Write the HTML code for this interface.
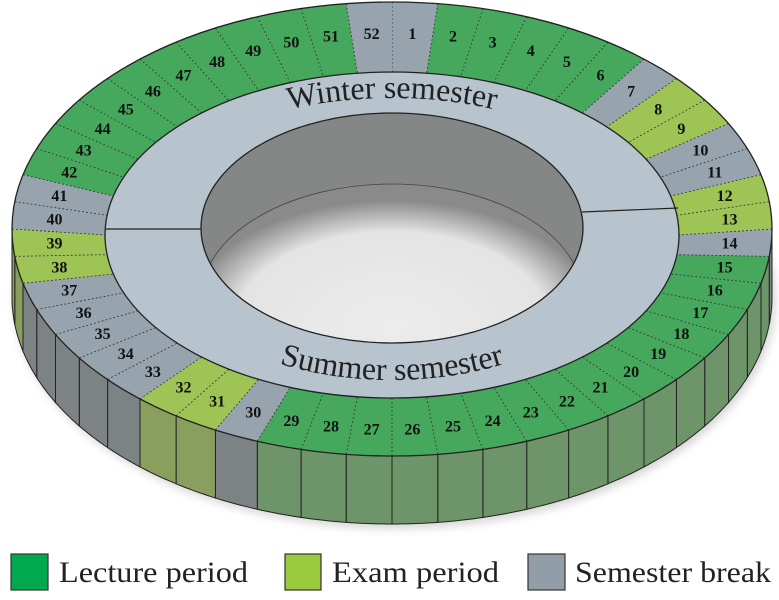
<!DOCTYPE html>
<html><head><meta charset="utf-8"><style>
html,body{margin:0;padding:0;background:#fff;}
svg{display:block;}
.n{font-family:"Liberation Serif",serif;font-weight:bold;font-size:16px;fill:#111;}
.t{font-family:"Liberation Serif",serif;font-size:32px;fill:#222;}
.lg{font-family:"Liberation Serif",serif;font-size:30px;fill:#222;}
</style></head><body>
<svg id="s" width="779" height="600" viewBox="0 0 779 600" xmlns="http://www.w3.org/2000/svg">
<defs>
<radialGradient id="floor" cx="0.5" cy="0.62" r="0.55">
<stop offset="0" stop-color="#ececec"/><stop offset="0.75" stop-color="#e4e4e4"/><stop offset="1" stop-color="#8a8a8a"/>
</radialGradient>
<clipPath id="hole"><ellipse cx="392" cy="228" rx="191" ry="115"/></clipPath>
<filter id="blur"><feGaussianBlur stdDeviation="5"/></filter>
<path id="wp" d="M 142 228 A 250 130 0 0 1 642 228"/>
<path id="sp" d="M 142 228 A 250 152 0 0 0 642 228"/>
</defs>
<ellipse cx="395" cy="300" rx="380" ry="228" fill="#000" opacity="0.18" filter="url(#blur)"/>
<g id="wall"></g>
<g id="top"></g>
<ellipse cx="392" cy="235" rx="287" ry="163" fill="#b7c4cd" stroke="#222" stroke-width="1.3"/>
<line x1="106" y1="229" x2="202" y2="229" stroke="#222" stroke-width="1.2"/>
<line x1="582" y1="212" x2="678" y2="208" stroke="#222" stroke-width="1.2"/>
<ellipse cx="392" cy="228" rx="191" ry="115" fill="#858787"/>
<g clip-path="url(#hole)"><ellipse cx="392" cy="299" rx="191" ry="115" fill="url(#floor)" stroke="#444" stroke-width="0.8"/></g>
<ellipse cx="392" cy="228" rx="191" ry="115" fill="none" stroke="#222" stroke-width="1.3"/>
<text class="t"><textPath href="#wp" startOffset="50%" text-anchor="middle">Winter semester</textPath></text>
<text class="t"><textPath href="#sp" startOffset="50%" text-anchor="middle">Summer semester</textPath></text>
<g id="lab"></g>
<rect x="11" y="554" width="37" height="36" fill="#00a84f" stroke="#333" stroke-width="1.2"/>
<text class="lg" x="59" y="582" textLength="189" lengthAdjust="spacingAndGlyphs">Lecture period</text>
<rect x="285" y="554" width="36" height="36" fill="#99c93c" stroke="#333" stroke-width="1.2"/>
<text class="lg" x="332" y="582" textLength="167" lengthAdjust="spacingAndGlyphs">Exam period</text>
<rect x="528" y="554" width="37" height="36" fill="#919ea8" stroke="#333" stroke-width="1.2"/>
<text class="lg" x="575" y="582" textLength="196" lengthAdjust="spacingAndGlyphs">Semester break</text>
</svg>
<script>
(function(){
var NS="http://www.w3.org/2000/svg";
var O={cx:392,cy:229,rx:380,ry:227}, M={cx:392,cy:235,rx:287,ry:163};
var H=68;
function P(e,t){return [e.cx+e.rx*Math.sin(t), e.cy-e.ry*Math.cos(t)];}
var brk=[52,1,7,10,11,14,30,33,34,35,36,37,40,41], ex=[8,9,12,13,31,32,38,39];
function kind(k){return brk.indexOf(k)>=0?2:(ex.indexOf(k)>=0?1:0);}
var topC=["#45a85c","#9dc455","#97a3ad"], wallC=["#6e9469","#8a9f5e","#7d8285"];
function el(tag,a,par){var e=document.createElementNS(NS,tag);for(var k in a)e.setAttribute(k,a[k]);document.getElementById(par).appendChild(e);return e;}
var step=2*Math.PI/52, N=10;
for(var k=1;k<=52;k++){
 var t0=(k-1)*step,t1=k*step,pts=[],i,p;
 for(i=0;i<=N;i++){p=P(O,t0+(t1-t0)*i/N);pts.push(p);}
 for(i=N;i>=0;i--){p=P(M,t0+(t1-t0)*i/N);pts.push(p);}
 el("polygon",{points:pts.map(function(q){return q[0].toFixed(1)+","+q[1].toFixed(1)}).join(" "),fill:topC[kind(k)]},"top");
 if(k>=14&&k<=39){
  var w=[];
  for(i=0;i<=N;i++){p=P(O,t0+(t1-t0)*i/N);w.push(p);}
  for(i=N;i>=0;i--){p=P(O,t0+(t1-t0)*i/N);w.push([p[0],p[1]+H]);}
  el("polygon",{points:w.map(function(q){return q[0].toFixed(1)+","+q[1].toFixed(1)}).join(" "),fill:wallC[kind(k)],stroke:"#222","stroke-width":"1"},"wall");
 }
 var a=P(O,t0),b=P(M,t0);
 el("line",{x1:a[0],y1:a[1],x2:b[0],y2:b[1],stroke:"#333","stroke-width":"0.8","stroke-dasharray":"2,2"},"top");
 var tc=(t0+t1)/2,po=P(O,tc),pm=P(M,tc);
 var x=po[0]*0.55+pm[0]*0.45,y=po[1]*0.55+pm[1]*0.45;
 var tx=el("text",{x:x.toFixed(1),y:(y+5).toFixed(1),"class":"n","text-anchor":"middle"},"lab");
 tx.textContent=k;
}
el("ellipse",{cx:O.cx,cy:O.cy,rx:O.rx,ry:O.ry,fill:"none",stroke:"#222","stroke-width":"1.3"},"top");
})();
</script>
</body></html>
